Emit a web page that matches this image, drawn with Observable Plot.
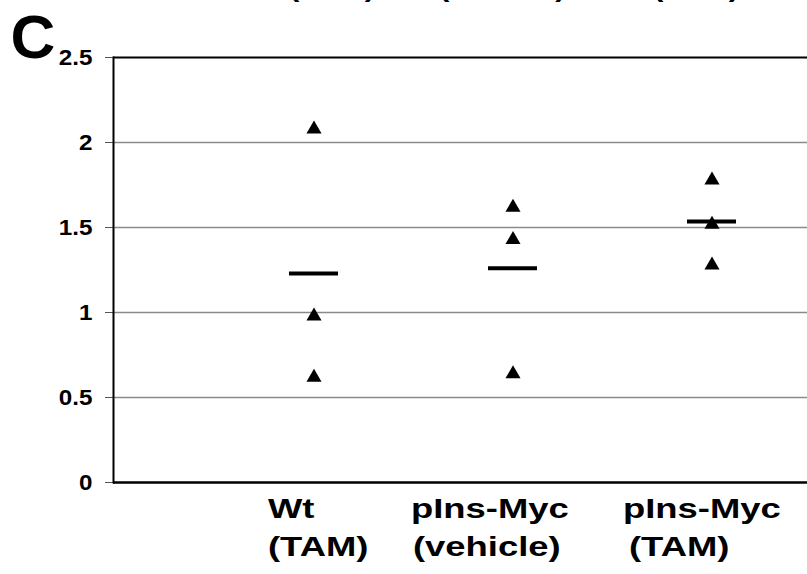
<!DOCTYPE html>
<html><head><meta charset="utf-8">
<script src="https://cdn.jsdelivr.net/npm/d3@7"></script>
<script src="https://cdn.jsdelivr.net/npm/@observablehq/plot@0.6"></script>
<style>body{margin:0;background:#fff}#chart svg{display:block}</style>
</head><body><div id="chart"></div>
<script>
// ---- data ----
const categories = ["Wt (TAM)", "pIns-Myc (vehicle)", "pIns-Myc (TAM)"];
const labelLine1 = ["Wt", "pIns-Myc", "pIns-Myc"];
const labelLine2 = ["(TAM)", "(vehicle)", "(TAM)"];
const valuesWt = [2.09, 0.99, 0.63];
const valuesVehicle = [1.63, 1.44, 0.65];
const valuesTam = [1.79, 1.53, 1.29];
const means = [1.23, 1.26, 1.535];
const yTicks = [0, 0.5, 1, 1.5, 2, 2.5];
const panelLetter = "C";
const prevPanelLabels = ["(TAM)", "(vehicle)", "(TAM)"];

// ---- tables ----
const points = [valuesWt, valuesVehicle, valuesTam]
  .flatMap((vals, i) => vals.map(v => ({cat: categories[i], v})));
const meanRows = means.map((m, i) => ({cat: categories[i], v: m}));

// ---- layout (style only) ----
const font = "'Liberation Sans', Arial, Helvetica, sans-serif";
const line1Dx = [-46, -102, -89];
const line2Dx = [-46, -100, -83];
const prevDx = [-25, -74, -59];

const labelMarks = categories.flatMap((c, i) => [
  Plot.text([c], {x: d => d, text: () => labelLine1[i], frameAnchor: "bottom", lineAnchor: "middle", dx: line1Dx[i], dy: 27,
    textAnchor: "start", fontSize: 28, fontWeight: "bold", fill: "#000", ariaDescription: "x-label"}),
  Plot.text([c], {x: d => d, text: () => labelLine2[i], frameAnchor: "bottom", lineAnchor: "middle", dx: line2Dx[i], dy: 65,
    textAnchor: "start", fontSize: 28, fontWeight: "bold", fill: "#000", ariaDescription: "x-label"}),
  Plot.text([c], {x: d => d, text: () => prevPanelLabels[i], frameAnchor: "top", lineAnchor: "middle", dx: prevDx[i], dy: -68,
    textAnchor: "start", fontSize: 24, fontWeight: "bold", fill: "#000", ariaDescription: "x-label"})
]);

const chart = Plot.plot({
  width: 807,
  height: 574,
  marginLeft: 113,
  marginRight: 0,
  marginTop: 57,
  marginBottom: 92,
  style: {fontFamily: font, fontSize: "22px", fontWeight: "bold", color: "#000", background: "#fff"},
  x: {type: "band", domain: categories, padding: 0, insetLeft: 100, insetRight: -4, axis: null},
  y: {domain: [0, 2.5]},
  marks: [
    Plot.ruleY(yTicks.filter(t => t > 0 && t < 2.5), {stroke: "#8a8a8a", strokeWidth: 1.5}),
    Plot.ruleY([2.5], {stroke: "#000", strokeWidth: 2}),
    Plot.ruleY([0], {stroke: "#000", strokeWidth: 2.5}),
    Plot.axisY({ticks: yTicks, tickSize: 8, tickPadding: 13, tickFormat: d => String(d), stroke: "#555", label: null}),
    Plot.frame({anchor: "left", stroke: "#000", strokeWidth: 2}),
    Plot.tickY(meanRows, {x: "cat", y: "v", stroke: "#000", strokeWidth: 4, insetLeft: 75, insetRight: 75}),
    Plot.dot(points, {x: "cat", y: "v", symbol: "triangle", r: 5.6, fill: "#000", stroke: "none", dy: 2}),
    Plot.text([panelLetter], {frameAnchor: "top-left", lineAnchor: "middle", text: d => d, dx: -103, dy: -19,
      textAnchor: "start", fontSize: 62, fontWeight: "bold", fill: "#000"}),
    ...labelMarks
  ]
});
document.getElementById("chart").append(chart);

function stretch(sel, k) {
  chart.querySelectorAll(sel).forEach(t => {
    const w = t.getComputedTextLength();
    if (w > 0) {
      t.setAttribute("textLength", w * k);
      t.setAttribute("lengthAdjust", "spacingAndGlyphs");
    }
  });
}
stretch('g[aria-description="x-label"] text', 1.3);
stretch('g[aria-label="y-axis tick label"] text', 1.1);
</script>
</body></html>
